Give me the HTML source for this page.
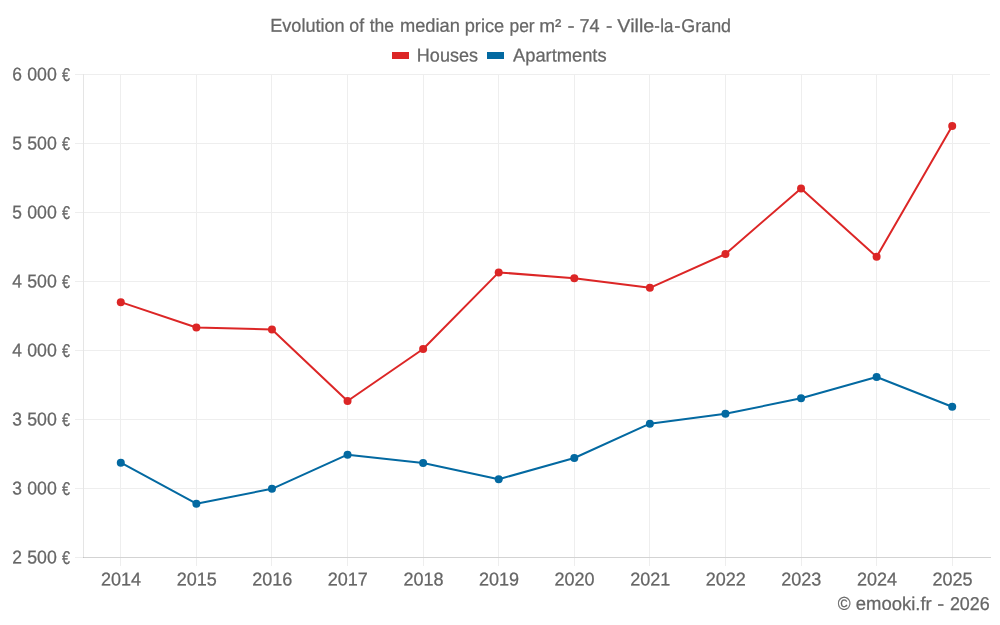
<!DOCTYPE html>
<html lang="en">
<head>
<meta charset="utf-8">
<title>Evolution of the median price per m² - 74 - Ville-la-Grand</title>
<style>
html,body{margin:0;padding:0;background:#fff;}
body{width:1000px;height:625px;overflow:hidden;}
svg{display:block;}
text{font-family:"Liberation Sans",sans-serif;fill:#666666;stroke:#666666;stroke-width:0.25px;}
</style>
</head>
<body>
<svg width="1000" height="625" viewBox="0 0 1000 625">
<rect x="0" y="0" width="1000" height="625" fill="#ffffff"/>

<g fill="#eeeeee" shape-rendering="crispEdges">
<rect x="75" y="74" width="915" height="1"/>
<rect x="75" y="143" width="915" height="1"/>
<rect x="75" y="212" width="915" height="1"/>
<rect x="75" y="281" width="915" height="1"/>
<rect x="75" y="350" width="915" height="1"/>
<rect x="75" y="419" width="915" height="1"/>
<rect x="75" y="488" width="915" height="1"/>
<rect x="120" y="74" width="1" height="492"/>
<rect x="196" y="74" width="1" height="492"/>
<rect x="271" y="74" width="1" height="492"/>
<rect x="347" y="74" width="1" height="492"/>
<rect x="423" y="74" width="1" height="492"/>
<rect x="498" y="74" width="1" height="492"/>
<rect x="574" y="74" width="1" height="492"/>
<rect x="649" y="74" width="1" height="492"/>
<rect x="725" y="74" width="1" height="492"/>
<rect x="801" y="74" width="1" height="492"/>
<rect x="876" y="74" width="1" height="492"/>
<rect x="952" y="74" width="1" height="492"/>
<rect x="75" y="557" width="8" height="1"/>
</g>
<g shape-rendering="crispEdges">
<rect x="83" y="74" width="1" height="483" fill="#e5e5e5"/>
<rect x="84" y="557" width="907" height="1" fill="#d3d3d3"/>
<rect x="83" y="557" width="1" height="1" fill="#c4c4c4"/>
</g>
<text font-size="18.6" transform="rotate(0.032 500.7 31.9)"><tspan x="270.26" y="31.90" textLength="74.39" lengthAdjust="spacingAndGlyphs">Evolution</tspan> <tspan x="349.32" y="31.90" textLength="14.74" lengthAdjust="spacingAndGlyphs">of</tspan> <tspan x="369.70" y="31.90" textLength="24.28" lengthAdjust="spacingAndGlyphs">the</tspan> <tspan x="399.96" y="31.90" textLength="59.94" lengthAdjust="spacingAndGlyphs">median</tspan> <tspan x="464.72" y="31.90" textLength="39.53" lengthAdjust="spacingAndGlyphs">price</tspan> <tspan x="509.49" y="31.90" textLength="25.19" lengthAdjust="spacingAndGlyphs">per</tspan> <tspan x="539.36" y="31.90" textLength="22.06" lengthAdjust="spacingAndGlyphs">m²</tspan> <tspan x="567.60" y="31.90" textLength="7.13" lengthAdjust="spacingAndGlyphs">-</tspan> <tspan x="579.50" y="31.90" textLength="20.12" lengthAdjust="spacingAndGlyphs">74</tspan> <tspan x="605.91" y="31.90" textLength="6.42" lengthAdjust="spacingAndGlyphs">-</tspan> <tspan x="617.39" y="31.90" textLength="36.90" lengthAdjust="spacingAndGlyphs">Ville</tspan><tspan x="654.34" y="31.90" textLength="5.58" lengthAdjust="spacingAndGlyphs">-</tspan><tspan x="660.30" y="31.90" textLength="13.10" lengthAdjust="spacingAndGlyphs">la</tspan><tspan x="674.20" y="31.90" textLength="6.23" lengthAdjust="spacingAndGlyphs">-</tspan><tspan x="681.33" y="31.90" textLength="49.71" lengthAdjust="spacingAndGlyphs">Grand</tspan></text>
<rect x="392" y="52" width="17" height="7" fill="#dc2626"/>
<text font-size="18.6" transform="rotate(0.032 447.4 61.6)"><tspan x="416.87" y="61.60" textLength="61.10" lengthAdjust="spacingAndGlyphs">Houses</tspan></text>
<rect x="487" y="52" width="17" height="7" fill="#0369a1"/>
<text font-size="18.6" transform="rotate(0.032 559.8 61.6)"><tspan x="513.00" y="61.60" textLength="93.59" lengthAdjust="spacingAndGlyphs">Apartments</tspan></text>
<text font-size="18.6" transform="rotate(0.032 41.0 80.6)"><tspan x="12.25" y="80.60" textLength="9.69" lengthAdjust="spacingAndGlyphs">6</tspan> <tspan x="27.25" y="80.60" textLength="29.61" lengthAdjust="spacingAndGlyphs">000</tspan> <tspan x="62.00" y="80.60" textLength="8.05" lengthAdjust="spacingAndGlyphs">€</tspan></text>
<text font-size="18.6" transform="rotate(0.032 41.0 149.6)"><tspan x="12.25" y="149.60" textLength="9.69" lengthAdjust="spacingAndGlyphs">5</tspan> <tspan x="27.25" y="149.60" textLength="29.61" lengthAdjust="spacingAndGlyphs">500</tspan> <tspan x="62.00" y="149.60" textLength="8.05" lengthAdjust="spacingAndGlyphs">€</tspan></text>
<text font-size="18.6" transform="rotate(0.032 41.0 218.6)"><tspan x="12.25" y="218.60" textLength="9.69" lengthAdjust="spacingAndGlyphs">5</tspan> <tspan x="27.25" y="218.60" textLength="29.61" lengthAdjust="spacingAndGlyphs">000</tspan> <tspan x="62.00" y="218.60" textLength="8.05" lengthAdjust="spacingAndGlyphs">€</tspan></text>
<text font-size="18.6" transform="rotate(0.032 41.0 287.6)"><tspan x="12.25" y="287.60" textLength="9.69" lengthAdjust="spacingAndGlyphs">4</tspan> <tspan x="27.25" y="287.60" textLength="29.61" lengthAdjust="spacingAndGlyphs">500</tspan> <tspan x="62.00" y="287.60" textLength="8.05" lengthAdjust="spacingAndGlyphs">€</tspan></text>
<text font-size="18.6" transform="rotate(0.032 41.0 356.6)"><tspan x="12.25" y="356.60" textLength="9.69" lengthAdjust="spacingAndGlyphs">4</tspan> <tspan x="27.25" y="356.60" textLength="29.61" lengthAdjust="spacingAndGlyphs">000</tspan> <tspan x="62.00" y="356.60" textLength="8.05" lengthAdjust="spacingAndGlyphs">€</tspan></text>
<text font-size="18.6" transform="rotate(0.032 41.0 425.6)"><tspan x="12.25" y="425.60" textLength="9.69" lengthAdjust="spacingAndGlyphs">3</tspan> <tspan x="27.25" y="425.60" textLength="29.61" lengthAdjust="spacingAndGlyphs">500</tspan> <tspan x="62.00" y="425.60" textLength="8.05" lengthAdjust="spacingAndGlyphs">€</tspan></text>
<text font-size="18.6" transform="rotate(0.032 41.0 494.6)"><tspan x="12.25" y="494.60" textLength="9.69" lengthAdjust="spacingAndGlyphs">3</tspan> <tspan x="27.25" y="494.60" textLength="29.61" lengthAdjust="spacingAndGlyphs">000</tspan> <tspan x="62.00" y="494.60" textLength="8.05" lengthAdjust="spacingAndGlyphs">€</tspan></text>
<text font-size="18.6" transform="rotate(0.032 41.0 563.6)"><tspan x="12.25" y="563.60" textLength="9.69" lengthAdjust="spacingAndGlyphs">2</tspan> <tspan x="27.25" y="563.60" textLength="29.61" lengthAdjust="spacingAndGlyphs">500</tspan> <tspan x="62.00" y="563.60" textLength="8.05" lengthAdjust="spacingAndGlyphs">€</tspan></text>
<text x="101.06" y="585.60" font-size="18.6" transform="rotate(0.032 120.8 585.6)" textLength="40.11" lengthAdjust="spacingAndGlyphs">2014</text>
<text x="176.64" y="585.60" font-size="18.6" transform="rotate(0.032 196.4 585.6)" textLength="40.11" lengthAdjust="spacingAndGlyphs">2015</text>
<text x="252.23" y="585.60" font-size="18.6" transform="rotate(0.032 272.0 585.6)" textLength="40.11" lengthAdjust="spacingAndGlyphs">2016</text>
<text x="327.81" y="585.60" font-size="18.6" transform="rotate(0.032 347.5 585.6)" textLength="40.11" lengthAdjust="spacingAndGlyphs">2017</text>
<text x="403.39" y="585.60" font-size="18.6" transform="rotate(0.032 423.1 585.6)" textLength="40.11" lengthAdjust="spacingAndGlyphs">2018</text>
<text x="478.98" y="585.60" font-size="18.6" transform="rotate(0.032 498.7 585.6)" textLength="40.11" lengthAdjust="spacingAndGlyphs">2019</text>
<text x="554.56" y="585.60" font-size="18.6" transform="rotate(0.032 574.3 585.6)" textLength="40.11" lengthAdjust="spacingAndGlyphs">2020</text>
<text x="630.14" y="585.60" font-size="18.6" transform="rotate(0.032 649.9 585.6)" textLength="40.11" lengthAdjust="spacingAndGlyphs">2021</text>
<text x="705.73" y="585.60" font-size="18.6" transform="rotate(0.032 725.5 585.6)" textLength="40.11" lengthAdjust="spacingAndGlyphs">2022</text>
<text x="781.31" y="585.60" font-size="18.6" transform="rotate(0.032 801.0 585.6)" textLength="40.11" lengthAdjust="spacingAndGlyphs">2023</text>
<text x="856.89" y="585.60" font-size="18.6" transform="rotate(0.032 876.6 585.6)" textLength="40.11" lengthAdjust="spacingAndGlyphs">2024</text>
<text x="932.48" y="585.60" font-size="18.6" transform="rotate(0.032 952.2 585.6)" textLength="40.11" lengthAdjust="spacingAndGlyphs">2025</text>
<text font-size="18.6" transform="rotate(0.032 913.7 609.9)"><tspan x="837.68" y="609.90" textLength="12.83" lengthAdjust="spacingAndGlyphs">©</tspan> <tspan x="855.77" y="609.90" textLength="75.90" lengthAdjust="spacingAndGlyphs">emooki.fr</tspan> <tspan x="937.30" y="609.90" textLength="6.97" lengthAdjust="spacingAndGlyphs">-</tspan> <tspan x="949.89" y="609.90" textLength="39.81" lengthAdjust="spacingAndGlyphs">2026</tspan></text>
<polyline points="120.79,462.70 196.38,503.70 271.96,488.80 347.54,454.70 423.12,463.00 498.71,479.20 574.29,458.00 649.88,423.70 725.46,413.80 801.04,398.30 876.62,377.00 952.21,406.80" fill="none" stroke="#0369a1" stroke-width="2" stroke-linejoin="round"/>
<circle cx="120.79" cy="462.70" r="4" fill="#0369a1"/>
<circle cx="196.38" cy="503.70" r="4" fill="#0369a1"/>
<circle cx="271.96" cy="488.80" r="4" fill="#0369a1"/>
<circle cx="347.54" cy="454.70" r="4" fill="#0369a1"/>
<circle cx="423.12" cy="463.00" r="4" fill="#0369a1"/>
<circle cx="498.71" cy="479.20" r="4" fill="#0369a1"/>
<circle cx="574.29" cy="458.00" r="4" fill="#0369a1"/>
<circle cx="649.88" cy="423.70" r="4" fill="#0369a1"/>
<circle cx="725.46" cy="413.80" r="4" fill="#0369a1"/>
<circle cx="801.04" cy="398.30" r="4" fill="#0369a1"/>
<circle cx="876.62" cy="377.00" r="4" fill="#0369a1"/>
<circle cx="952.21" cy="406.80" r="4" fill="#0369a1"/>
<polyline points="120.79,302.15 196.38,327.50 271.96,329.50 347.54,401.00 423.12,349.00 498.71,272.40 574.29,278.30 649.88,287.80 725.46,254.00 801.04,188.40 876.62,256.80 952.21,126.00" fill="none" stroke="#dc2626" stroke-width="2" stroke-linejoin="round"/>
<circle cx="120.79" cy="302.15" r="4" fill="#dc2626"/>
<circle cx="196.38" cy="327.50" r="4" fill="#dc2626"/>
<circle cx="271.96" cy="329.50" r="4" fill="#dc2626"/>
<circle cx="347.54" cy="401.00" r="4" fill="#dc2626"/>
<circle cx="423.12" cy="349.00" r="4" fill="#dc2626"/>
<circle cx="498.71" cy="272.40" r="4" fill="#dc2626"/>
<circle cx="574.29" cy="278.30" r="4" fill="#dc2626"/>
<circle cx="649.88" cy="287.80" r="4" fill="#dc2626"/>
<circle cx="725.46" cy="254.00" r="4" fill="#dc2626"/>
<circle cx="801.04" cy="188.40" r="4" fill="#dc2626"/>
<circle cx="876.62" cy="256.80" r="4" fill="#dc2626"/>
<circle cx="952.21" cy="126.00" r="4" fill="#dc2626"/>
</svg>
</body>
</html>
